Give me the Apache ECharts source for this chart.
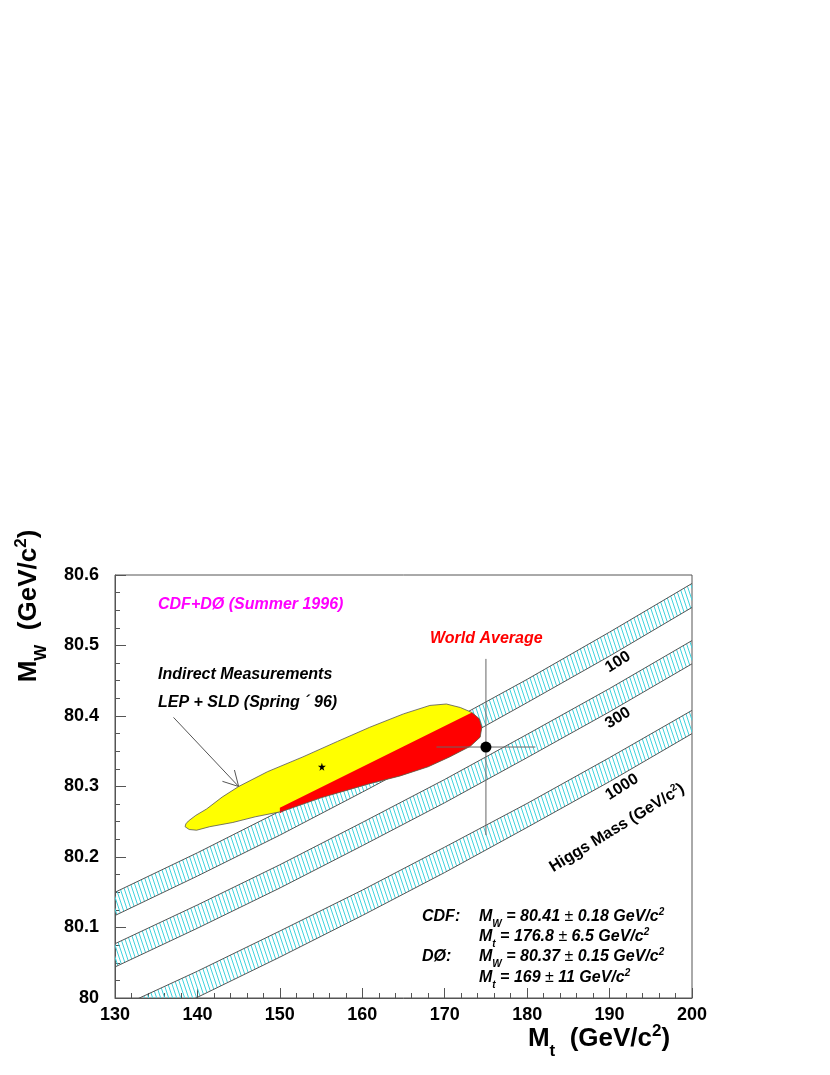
<!DOCTYPE html>
<html><head><meta charset="utf-8">
<script src="https://cdn.jsdelivr.net/npm/echarts@6/dist/echarts.min.js"></script>
<style>html,body{margin:0;padding:0;background:#fff}#c{width:830px;height:1075px}</style>
</head><body><div id="c"></div>
<script>
// ---------------- data ----------------
const xTickLabels = ['130','140','150','160','170','180','190','200'];
const yTickLabels = ['80','80.1','80.2','80.3','80.4','80.5','80.6'];
const bandMt = [130,140,150,160,170,180,190,200];
const h100Upper  = [80.150,80.206,80.265,80.325,80.388,80.452,80.519,80.588];
const h100Lower  = [80.117,80.173,80.231,80.292,80.354,80.419,80.485,80.554];
const h300Upper  = [80.077,80.132,80.189,80.249,80.310,80.374,80.439,80.507];
const h300Lower  = [80.044,80.099,80.156,80.216,80.277,80.341,80.406,80.474];
const h1000Upper = [79.984,80.038,80.095,80.153,80.214,80.276,80.341,80.408];
const h1000Lower = [79.946,80.001,80.058,80.117,80.178,80.242,80.307,80.375];
const higgsLabels = ['100','300','1000'];
// LEP + SLD indirect contour (outer outline)
const lepMt = [138.5,138.6,138.9,139.8,141.1,143.0,145.0,148.5,152.8,157.0,160.9,165.0,168.2,170.2,171.9,173.3,174.2,174.5,174.3,173.1,170.6,168.0,164.6,160.9,155.0,150.6,150.0,147.0,144.3,141.5,139.9,139.0];
const lepMw = [80.243,80.247,80.251,80.259,80.268,80.285,80.300,80.321,80.342,80.364,80.384,80.403,80.415,80.417,80.412,80.405,80.396,80.384,80.370,80.357,80.342,80.328,80.315,80.304,80.284,80.266,80.264,80.257,80.249,80.243,80.238,80.239];
// red part of the contour
const redMt = [150.0,150.0,173.3,174.2,174.5,174.3,173.1,170.6,168.0,164.6,160.9,155.0,150.6];
const redMw = [80.262,80.270,80.405,80.396,80.384,80.370,80.357,80.342,80.328,80.315,80.304,80.284,80.266];
const lepCentre = [155.1, 80.328];
const worldAvg = [175.0, 80.356];
const worldAvgErr = [6.0, 0.125];
const arrowFrom = [137.1, 80.398];
const arrowTo = [145.0, 80.300];

// ---------------- helpers ----------------
const FONT = '"Liberation Sans", Arial, Helvetica, sans-serif';
function hatchCanvas(){
  const c = document.createElement('canvas'); c.width = 4; c.height = 12;
  const g = c.getContext('2d');
  g.strokeStyle = '#3fd3de'; g.lineWidth = 1;
  for (const dx of [-4,0,4]) { g.beginPath(); g.moveTo(dx-1,-3); g.lineTo(dx+5,15); g.stroke(); }
  return c;
}
const HATCH = hatchCanvas();

function bandSeries(upper, lower){
  return {
    type:'custom', clip:true, z:2, silent:true,
    data:[[bandMt[0], upper[0]]],
    renderItem(params, api){
      const up = bandMt.map((x,i)=>api.coord([x, upper[i]]));
      const lo = bandMt.map((x,i)=>api.coord([x, lower[i]]));
      return {type:'group', children:[
        {type:'polygon', shape:{points: up.concat(lo.slice().reverse())}, style:{fill:{image:HATCH, repeat:'repeat'}, stroke:null}},
        {type:'polyline', shape:{points:up}, style:{stroke:'#555', lineWidth:1, fill:null}},
        {type:'polyline', shape:{points:lo}, style:{stroke:'#555', lineWidth:1, fill:null}}
      ]};
    }
  };
}

function rich(F, italic, color){
  const st = italic ? 'italic' : 'normal';
  const L = Math.round(F*1.25);
  const f = Math.round(F*0.64);
  const dSub = F*0.48, dSup = F*0.29;
  const hSub = Math.max(2, Math.round(L - 2*dSub));
  const hSup = Math.round(2*(L/2 - dSup));
  const base = {fontFamily:FONT, fill:color, color:color, fontStyle:st};
  return {
    b:  Object.assign({}, base, {fontSize:F, fontWeight:'bold', lineHeight:L, height:L, verticalAlign:'middle'}),
    sub:Object.assign({}, base, {fontSize:f, fontWeight:'bold', lineHeight:hSub, height:hSub, verticalAlign:'bottom'}),
    sup:Object.assign({}, base, {fontSize:f, fontWeight:'bold', lineHeight:hSup, height:hSup, verticalAlign:'top'}),
    pm: Object.assign({}, base, {fontSize:F, fontWeight:'normal', fontStyle:'normal', lineHeight:L, height:L, verticalAlign:'middle'})
  };
}
function txt(text, x, y, opt){
  opt = opt || {};
  const F = opt.size || 16;
  return {type:'text', x:x, y:y, rotation:(opt.rot||0)*Math.PI/180, z:50, silent:true,
    style:{text:text, rich:rich(F, opt.italic!==false, opt.color||'#000'),
      fontFamily:FONT, fontSize:F, fontWeight:'bold', fontStyle:(opt.italic!==false)?'italic':'normal',
      fill:opt.color||'#000', align:opt.align||'left', verticalAlign:'middle'}};
}

// ---------------- chart ----------------
const chart = echarts.init(document.getElementById('c'), null, {renderer:'canvas'});
const axisCol = '#555';
const option = {
  animation:false,
  backgroundColor:'#fff',
  grid:{left:115, top:575, right:138, bottom:77, show:true, borderColor:axisCol, borderWidth:1, backgroundColor:'transparent'},
  xAxis:{type:'value', min:130, max:200, interval:10,
    axisLine:{show:true, onZero:false, lineStyle:{color:axisCol, width:1}},
    axisTick:{show:true, inside:true, length:10, lineStyle:{color:axisCol}},
    minorTick:{show:true, splitNumber:5, length:5, lineStyle:{color:axisCol}},
    splitLine:{show:false},
    axisLabel:{margin:8, color:'#000', fontSize:18, fontWeight:'bold', fontFamily:FONT,
      formatter:v=>xTickLabels[Math.round((v-130)/10)]}
  },
  yAxis:{type:'value', min:80, max:80.6, interval:0.1,
    axisLine:{show:true, onZero:false, lineStyle:{color:axisCol, width:1}},
    axisTick:{show:true, inside:true, length:11, lineStyle:{color:axisCol}},
    minorTick:{show:true, splitNumber:4, length:5, lineStyle:{color:axisCol}},
    splitLine:{show:false},
    axisLabel:{margin:16, color:'#000', fontSize:18, fontWeight:'bold', fontFamily:FONT,
      formatter:v=>yTickLabels[Math.round((v-80)/0.1)]}
  },
  series:[
    bandSeries(h100Upper, h100Lower),
    bandSeries(h300Upper, h300Lower),
    bandSeries(h1000Upper, h1000Lower),
    { // LEP contour
      type:'custom', clip:true, z:3, silent:true,
      data:[lepCentre],
      renderItem(params, api){
        const outer = lepMt.map((x,i)=>api.coord([x, lepMw[i]]));
        const red = redMt.map((x,i)=>api.coord([x, redMw[i]]));
        return {type:'group', children:[
          {type:'polygon', shape:{points:outer}, style:{fill:'#ffff00', stroke:null}},
          {type:'polygon', shape:{points:red}, style:{fill:'#ff0000', stroke:null}},
          {type:'polygon', shape:{points:outer}, style:{fill:null, stroke:'#555', lineWidth:0.8}}
        ]};
      }
    },
    { // arrow
      type:'custom', clip:false, z:4, silent:true,
      data:[arrowTo],
      renderItem(params, api){
        const p0 = api.coord(arrowFrom), p1 = api.coord(arrowTo);
        const ang = Math.atan2(p0[1]-p1[1], p0[0]-p1[0]);
        const L = 17, a = 29*Math.PI/180;
        const h1 = [p1[0]+L*Math.cos(ang+a), p1[1]+L*Math.sin(ang+a)];
        const h2 = [p1[0]+L*Math.cos(ang-a), p1[1]+L*Math.sin(ang-a)];
        const s = {stroke:'#555', lineWidth:1, fill:null};
        return {type:'group', children:[
          {type:'line', shape:{x1:p0[0],y1:p0[1],x2:p1[0],y2:p1[1]}, style:s},
          {type:'polyline', shape:{points:[h1,p1,h2]}, style:s}
        ]};
      }
    },
    { // world average error bars
      type:'custom', clip:true, z:5, silent:true,
      data:[worldAvg],
      renderItem(params, api){
        const xl = api.coord([worldAvg[0]-worldAvgErr[0], worldAvg[1]]);
        const xr = api.coord([worldAvg[0]+worldAvgErr[0], worldAvg[1]]);
        const yt = api.coord([worldAvg[0], worldAvg[1]+worldAvgErr[1]]);
        const yb = api.coord([worldAvg[0], worldAvg[1]-worldAvgErr[1]]);
        const s = {stroke:'#666', lineWidth:1};
        return {type:'group', children:[
          {type:'line', shape:{x1:xl[0],y1:xl[1],x2:xr[0],y2:xr[1]}, style:s},
          {type:'line', shape:{x1:yt[0],y1:yt[1],x2:yb[0],y2:yb[1]}, style:s}
        ]};
      }
    },
    { type:'scatter', z:6, silent:true, data:[worldAvg], symbol:'circle', symbolSize:11, itemStyle:{color:'#000', opacity:1} },
    { type:'scatter', z:6, silent:true, data:[lepCentre],
      symbol:'path://M50,0 L61,35 L98,35 L68,57 L79,91 L50,70 L21,91 L32,57 L2,35 L39,35 Z',
      symbolSize:8, itemStyle:{color:'#000', opacity:1} }
  ],
  graphic:[
    txt('CDF+DØ (Summer 1996)', 158, 605, {color:'#ff00ff'}),
    txt('Indirect Measurements', 158, 675),
    txt('LEP + SLD (Spring ´ 96)', 158, 703),
    txt('World Average', 430, 639, {color:'#ff0000'}),
    txt(higgsLabels[0], 618, 662, {italic:false, rot:32, align:'center'}),
    txt(higgsLabels[1], 618, 718, {italic:false, rot:32, align:'center'}),
    txt(higgsLabels[2], 622, 787, {italic:false, rot:32, align:'center'}),
    txt('{b|Higgs Mass (GeV/c}{sup|2}{b|)}', 617, 828, {italic:false, rot:31.5, align:'center'}),
    txt('{b|CDF:}', 422, 917),
    txt('{b|M}{sub|W}{b| = 80.41 }{pm|±}{b| 0.18 GeV/c}{sup|2}', 479, 917),
    txt('{b|M}{sub|t}{b| = 176.8 }{pm|±}{b| 6.5 GeV/c}{sup|2}', 479, 937),
    txt('{b|DØ:}', 422, 957),
    txt('{b|M}{sub|W}{b| = 80.37 }{pm|±}{b| 0.15 GeV/c}{sup|2}', 479, 957),
    txt('{b|M}{sub|t}{b| = 169 }{pm|±}{b| 11 GeV/c}{sup|2}', 479, 978),
    txt('{b|M}{sub|t}{b|  (GeV/c}{sup|2}{b|)}', 599, 1039, {italic:false, size:26, align:'center'}),
    txt('{b|M}{sub|W}{b|  (GeV/c}{sup|2}{b|)}', 29, 606, {italic:false, size:26, align:'center', rot:90})
  ]
};
chart.setOption(option);
</script>
</body></html>
